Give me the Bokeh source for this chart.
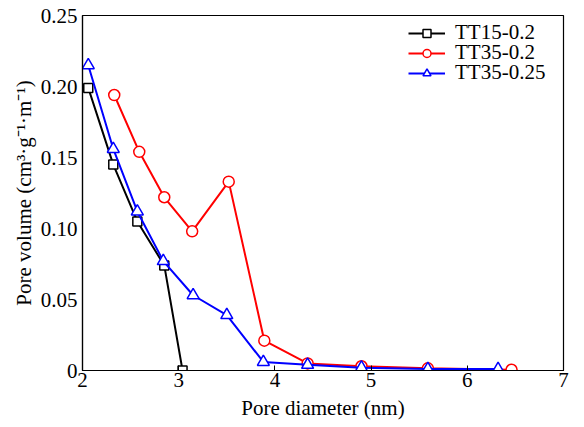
from bokeh.plotting import figure
from bokeh.models import FixedTicker, Range1d, Legend, LegendItem
from bokeh.embed import file_html
from bokeh.resources import INLINE

# Data
x_tt15_02 = [2.06, 2.32, 2.57, 2.85, 3.04]
y_tt15_02 = [0.199, 0.145, 0.105, 0.074, 0.0]

x_tt35_02 = [2.33, 2.59, 2.85, 3.14, 3.52, 3.89, 4.34, 4.90, 5.59, 6.46]
y_tt35_02 = [0.194, 0.154, 0.122, 0.098, 0.133, 0.021, 0.005, 0.003, 0.0015, 0.0005]

x_tt35_025 = [2.06, 2.32, 2.57, 2.84, 3.15, 3.50, 3.88, 4.34, 4.90, 5.59, 6.32]
y_tt35_025 = [0.215, 0.156, 0.112, 0.077, 0.053, 0.039, 0.006, 0.004, 0.002, 0.001, 0.001]

series_names = ["TT15-0.2", "TT35-0.2", "TT35-0.25"]
x_ticks = [2, 3, 4, 5, 6, 7]
y_ticks = [0, 0.05, 0.10, 0.15, 0.20, 0.25]
y_tick_labels = ["0", "0.05", "0.10", "0.15", "0.20", "0.25"]

FONT = "Liberation Serif"
FS = "21px"

p = figure(output_backend="svg", toolbar_location=None,
           x_range=Range1d(2, 7), y_range=Range1d(0, 0.25),
           frame_width=481, frame_height=355,
           min_border_left=82, min_border_right=8, min_border_top=15, min_border_bottom=52)
p.background_fill_color = "white"
p.border_fill_color = "white"
p.outline_line_color = "black"
p.outline_line_width = 1.2
p.xgrid.visible = False
p.ygrid.visible = False

for ax in (p.xaxis[0], p.yaxis[0]):
    ax.major_tick_in = 5
    ax.major_tick_out = 0
    ax.minor_tick_line_color = None
    ax.axis_line_color = "black"
    ax.axis_line_width = 1.2
    ax.major_tick_line_color = "black"
    ax.major_label_text_font = FONT
    ax.major_label_text_font_size = FS
    ax.major_label_text_color = "black"
    ax.axis_label_text_font = FONT
    ax.axis_label_text_font_size = FS
    ax.axis_label_text_font_style = "normal"
    ax.axis_label_text_color = "black"

p.yaxis.major_tick_line_color = None
p.xaxis.ticker = FixedTicker(ticks=x_ticks)
p.yaxis.ticker = FixedTicker(ticks=y_ticks)
p.yaxis.major_label_overrides = {t: l for t, l in zip(y_ticks, y_tick_labels)}
p.xaxis.axis_label = "Pore diameter (nm)"
p.yaxis.axis_label = "Pore volume (cm\u00b3\u00b7g\u207b\u00b9\u00b7m\u207b\u00b9)"
p.xaxis.major_label_standoff = 2
p.xaxis.axis_label_standoff = 6
p.yaxis.major_label_standoff = 5
p.yaxis.axis_label_standoff = 2

l1 = p.line(x_tt15_02, y_tt15_02, line_color="black", line_width=2)
m1 = p.scatter(x_tt15_02, y_tt15_02, marker="square", size=9, line_color="black",
               fill_color="white", line_width=1.5)
l2 = p.line(x_tt35_02, y_tt35_02, line_color="red", line_width=2)
m2 = p.scatter(x_tt35_02, y_tt35_02, marker="circle", size=11, line_color="red",
               fill_color="white", line_width=1.5)
l3 = p.line(x_tt35_025, y_tt35_025, line_color="blue", line_width=2)
m3 = p.scatter(x_tt35_025, y_tt35_025, marker="triangle", size=12, line_color="blue",
               fill_color="white", line_width=1.5)

# one legend per entry so rows can sit 20px apart like the reference
entries = [(series_names[0], [l1, m1], 325), (series_names[1], [l2, m2], 305),
           (series_names[2], [l3, m3], 285)]
for name, rends, ypos in entries:
    lg = Legend(items=[LegendItem(label=name, renderers=rends)], location=(326, ypos))
    lg.border_line_color = None
    lg.background_fill_alpha = 0
    lg.label_text_font = FONT
    lg.label_text_font_size = FS
    lg.label_text_color = "black"
    lg.glyph_width = 37
    lg.glyph_height = 20
    lg.spacing = 0
    lg.padding = 0
    lg.margin = 0
    lg.label_standoff = 10
    lg.label_height = 20
    p.add_layout(lg)

open("out.html", "w").write(file_html(p, INLINE))
